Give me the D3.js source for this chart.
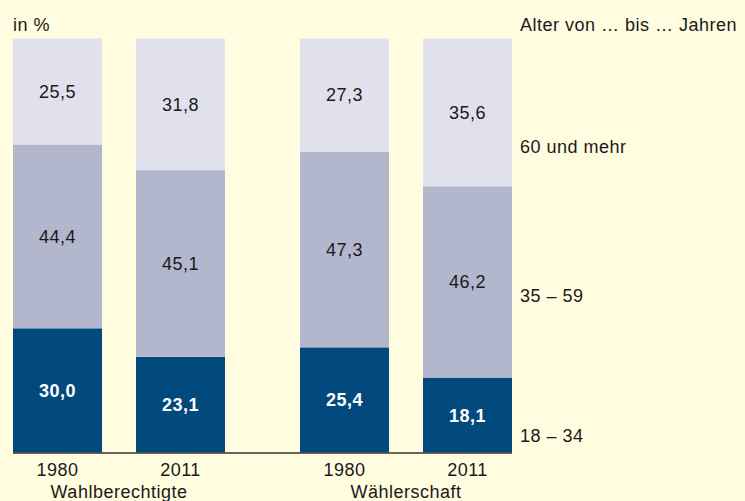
<!DOCTYPE html>
<html><head><meta charset="utf-8">
<script src="https://cdn.jsdelivr.net/npm/d3@7"></script>
<style>
html,body{margin:0;padding:0;background:#fffcdf;}
svg{display:block;font-family:"Liberation Sans",Arial,sans-serif;}
</style></head>
<body>
<svg id="chart" width="745" height="501"></svg>
<script>
const bars = ["W1980","W2011","E1980","E2011"];
const years = ["1980","2011","1980","2011"];
const groups = ["Wahlberechtigte","Wählerschaft"];
const ageGroups = ["18 – 34","35 – 59","60 und mehr"];
const young = [30.0, 23.1, 25.4, 18.1];
const middle = [44.4, 45.1, 47.3, 46.2];
const old = [25.5, 31.8, 27.3, 35.6];
const colors = ["#024a7e","#b2b7ce","#e0e1ec"];

const FS = 18, LS = "0.5px";
const svg = d3.select("#chart");
svg.append("rect").attr("width",745).attr("height",501).attr("fill","#fffcdf");

const y = d3.scaleLinear().domain([0,100]).range([452.5,38.5]);
const xPos = d3.scaleOrdinal().domain(bars).range([13,136,300,423]);
const bw = 89;

const series = [young, middle, old];
const data = bars.map((b,i)=>({bar:b, vals:series.map(s=>s[i])}));

function txt(x, yy, s, opts={}) {
  return svg.append("text").attr("x",x).attr("y",yy)
    .attr("font-size",FS).attr("letter-spacing",LS)
    .attr("fill", opts.fill || "#1a1a1a")
    .attr("text-anchor", opts.anchor || "start")
    .attr("font-weight", opts.weight || "normal")
    .attr("dy", opts.dy || null)
    .text(s);
}

data.forEach((d,i)=>{
  let cum = 0;
  d.vals.forEach((v,k)=>{
    const y0 = cum, y1 = (k===2) ? 100 : cum+v;
    svg.append("rect")
      .attr("x", xPos(d.bar)).attr("width", bw)
      .attr("y", y(y1)).attr("height", y(y0)-y(y1))
      .attr("fill", colors[k]);
    txt(xPos(d.bar)+bw/2, (y(y0)+y(y1))/2, d3.format(".1f")(v).replace(".",","),
      {anchor:"middle", dy:"0.36em", weight: k===0?"bold":"normal", fill: k===0?"#ffffff":"#1a1a1a"});
    cum += v;
  });
});

svg.append("line").attr("x1",13).attr("x2",512).attr("y1",y(0)+0.5).attr("y2",y(0)+0.5)
  .attr("stroke","#333").attr("stroke-width",1.5);

bars.forEach((b,i)=>{
  txt(xPos(b)+bw/2, 476, years[i], {anchor:"middle"});
});
[[0,1],[2,3]].forEach((p,i)=>{
  const cx = (xPos(bars[p[0]]) + xPos(bars[p[1]]) + bw)/2;
  txt(cx, 498, groups[i], {anchor:"middle"});
});

txt(13, 31, "in %");
txt(520, 31, "Alter von … bis … Jahren");

const legendPos = [4, 38, 74];
ageGroups.forEach((g,i)=>{
  txt(520, y(legendPos[i]), g, {dy:"0.36em"});
});
</script>
</body></html>
